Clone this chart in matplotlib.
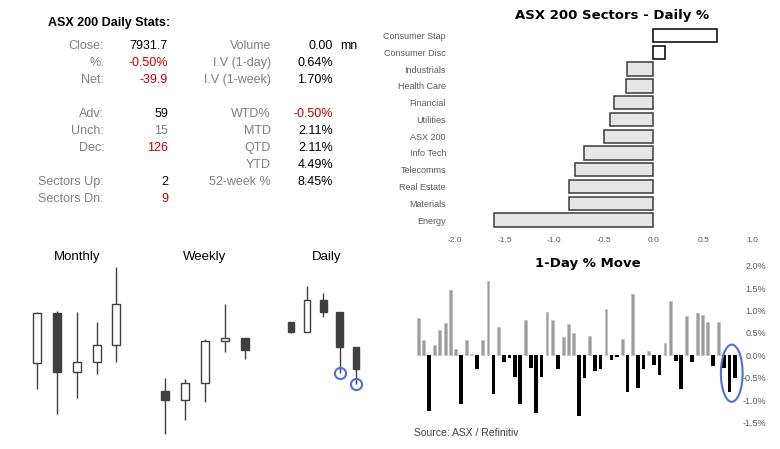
import matplotlib
matplotlib.use("Agg")
import matplotlib.pyplot as plt
from matplotlib.patches import Ellipse
import numpy as np

plt.rcParams['font.family'] = ['Liberation Sans', 'DejaVu Sans']

W, H = 780, 449

# --- stats table ---
left_labels = ['Close:', '%:', 'Net:', 'Adv:', 'Unch:', 'Dec:', 'Sectors Up:', 'Sectors Dn:']
left_values = ['7931.7', '-0.50%', '-39.9', '59', '15', '126', '2', '9']
left_colors = ['black', 'red', 'red', 'black', 'gray', 'red', 'black', 'red']
left_rows = [0, 1, 2, 4, 5, 6, 8, 9]

right_labels = ['Volume', 'I.V (1-day)', 'I.V (1-week)', 'WTD%', 'MTD', 'QTD', 'YTD', '52-week %']
right_values = ['0.00', '0.64%', '1.70%', '-0.50%', '2.11%', '2.11%', '4.49%', '8.45%']
right_colors = ['black', 'black', 'black', 'red', 'black', 'black', 'black', 'black']
right_rows = [0, 1, 2, 4, 5, 6, 7, 8]

# --- sectors ---
sectors = ['Consumer Stap', 'Consumer Disc', 'Industrials', 'Health Care', 'Financial',
           'Utilities', 'ASX 200', 'Info Tech', 'Telecomms', 'Real Estate', 'Materials', 'Energy']
sector_pct = [0.64, 0.12, -0.27, -0.28, -0.40, -0.44, -0.50, -0.70, -0.79, -0.85, -0.85, -1.61]

# --- 1-day % move (last 60 sessions) ---
daily_move = [0.83, 0.34, -1.24, 0.23, 0.56, 0.72, 1.46, 0.14, -1.08, 0.35,
              0.02, -0.31, 0.35, 1.66, -0.86, 0.64, -0.16, -0.05, -0.48, -1.08,
              0.80, -0.29, -1.30, -0.49, 0.98, 0.78, -0.31, 0.42, 0.69, 0.49,
              -1.35, -0.51, 0.43, -0.34, -0.31, 1.03, -0.11, -0.03, 0.36, -0.81,
              1.37, -0.72, -0.31, 0.10, -0.22, -0.43, 0.28, 1.22, -0.13, -0.76,
              0.88, -0.16, 0.94, 0.90, 0.75, -0.23, 0.75, -0.28, -0.81, -0.51]

# --- candles (open, high, low, close) ---
monthly_o = [7695.8, 7895.7, 7662.5, 7699.8, 7767.8]
monthly_h = [7899.7, 7906.4, 7899.7, 7859.7, 8079.6]
monthly_l = [7591.9, 7492.0, 7555.9, 7651.9, 7699.8]
monthly_c = [7895.7, 7662.5, 7699.8, 7767.8, 7931.7]

weekly_o = [7795.4, 7765.5, 7822.0, 7962.7, 7971.6]
weekly_h = [7838.6, 7835.3, 7970.5, 8084.6, 7971.6]
weekly_l = [7652.5, 7699.0, 7758.8, 7925.1, 7902.9]
weekly_c = [7765.5, 7822.0, 7962.7, 7971.6, 7931.7]

daily_o = [8017.0, 7999.0, 8057.0, 8035.0, 7972.0]
daily_h = [8017.0, 8082.2, 8069.5, 8035.0, 7972.0]
daily_l = [7997.0, 7999.0, 8026.0, 7925.7, 7905.1]
daily_c = [7999.0, 8057.0, 8035.0, 7972.0, 7932.0]

RED = '#c00000'
GRAY = '#808080'


def px_axes(fig, left, top, right, bottom):
    return fig.add_axes([left / W, 1 - bottom / H, (right - left) / W, (bottom - top) / H])


fig = plt.figure(figsize=(W / 100, H / 100), dpi=100)
fig.patch.set_facecolor('white')

# stats block
fig.text(47.7 / W, 1 - 22.7 / H, 'ASX 200 Daily Stats:', fontsize=9, fontweight='bold',
         ha='left', va='center')
cmap = {'black': 'black', 'red': RED, 'gray': GRAY}
for lab, val, col, r in zip(left_labels, left_values, left_colors, left_rows):
    y = 1 - (45.7 + r * 17.0) / H
    fig.text(104 / W, y, lab, fontsize=9, color=GRAY, ha='right', va='center')
    fig.text(168 / W, y, val, fontsize=9, color=cmap[col], ha='right', va='center')
for lab, val, col, r in zip(right_labels, right_values, right_colors, right_rows):
    y = 1 - (45.7 + r * 17.0) / H
    fig.text(271 / W, y, lab, fontsize=9, color=GRAY, ha='right', va='center')
    fig.text(333 / W, y, val, fontsize=9, color=cmap[col], ha='right', va='center')
fig.text(340 / W, 1 - 45.7 / H, 'mn', fontsize=9, color='black', ha='left', va='center')

# sector chart
ax_s = px_axes(fig, 455, 27.3, 752.7, 228.4)
ypos = np.arange(len(sectors))[::-1]
for y, v in zip(ypos, sector_pct):
    if v >= 0:
        ax_s.barh(y, v, height=0.8, color='white', edgecolor='black', linewidth=1.1)
    else:
        ax_s.barh(y, v, height=0.8, color='#e6e6e6', edgecolor='#3a3a3a', linewidth=1.1)
ax_s.set_xlim(-2, 1)
ax_s.set_ylim(-0.5, len(sectors) - 0.5)
ax_s.set_yticks(ypos)
ax_s.set_yticklabels(sectors, fontsize=6.5, color='#595959')
ax_s.set_xticks([-2.0, -1.5, -1.0, -0.5, 0.0, 0.5, 1.0])
ax_s.set_xticklabels(['-2.0', '-1.5', '-1.0', '-0.5', '0.0', '0.5', '1.0'], fontsize=6, color='#595959')
ax_s.tick_params(axis='both', length=0)
ax_s.tick_params(axis='y', pad=6.5)
ax_s.tick_params(axis='x', pad=6)
for sp in ax_s.spines.values():
    sp.set_visible(False)
fig.text(611.7 / W, 1 - 16 / H, 'ASX 200 Sectors - Daily %', fontsize=9.5, fontweight='bold',
         family='DejaVu Sans', ha='center', va='center')

# 1-day move chart
ax_d = px_axes(fig, 415.6, 265.9, 737.4, 422.4)
xs = np.arange(len(daily_move))
vals = np.array(daily_move)
up = vals >= 0
ax_d.bar(xs[up], vals[up], width=0.55, color='#9c9c9c', edgecolor='#bdbdbd', linewidth=0.5)
ax_d.bar(xs[~up], vals[~up], width=0.68, color='black')
ax_d.set_xlim(-0.5, len(daily_move) - 0.5)
ax_d.set_ylim(-1.5, 2.0)
ax_d.yaxis.tick_right()
ax_d.set_yticks([-1.5, -1.0, -0.5, 0.0, 0.5, 1.0, 1.5, 2.0])
ax_d.set_yticklabels(['-1.5%', '-1.0%', '-0.5%', '0.0%', '0.5%', '1.0%', '1.5%', '2.0%'],
                     fontsize=6.5, color='#595959', ha='right')
ax_d.tick_params(axis='y', length=0, pad=20.6)
ax_d.set_xticks([])
for sp in ax_d.spines.values():
    sp.set_visible(False)
ax_d.add_patch(Ellipse((58.45, -0.40), 4.05, 1.28, fill=False, edgecolor='#4a72d9',
                       linewidth=1.5, clip_on=False))
fig.text(588 / W, 1 - 263 / H, '1-Day % Move', fontsize=9.5, fontweight='bold',
         family='DejaVu Sans', ha='center', va='center')
fig.text(414 / W, 1 - 433 / H, 'Source: ASX / Refinitiv', fontsize=7.5, color='#404040',
         ha='left', va='center')


def candles(ax, o, h, l, c):
    o, h, l, c = map(np.array, (o, h, l, c))
    x = np.arange(len(o))
    ax.vlines(x, l, h, color='#404040', linewidth=1, clip_on=False, zorder=1)
    for xi, oi, ci in zip(x, o, c):
        fc = 'white' if ci >= oi else '#404040'
        ax.bar(xi, abs(ci - oi), bottom=min(oi, ci), width=0.4, color=fc,
               edgecolor='#404040', linewidth=1, clip_on=False, zorder=2)
    ax.set_xlim(-0.5, len(o) - 0.5)
    ax.set_ylim(l.min(), h.max())
    ax.axis('off')


ax_m = px_axes(fig, 27.4, 267.3, 126.2, 414.3)
candles(ax_m, monthly_o, monthly_h, monthly_l, monthly_c)
ax_w = px_axes(fig, 155.4, 304.3, 254.7, 434.3)
candles(ax_w, weekly_o, weekly_h, weekly_l, weekly_c)
ax_dy = px_axes(fig, 282.9, 286.3, 363.9, 384.0)
candles(ax_dy, daily_o, daily_h, daily_l, daily_c)
# circles on the last two daily lows
ax_dy.plot([3, 4], [daily_l[3], daily_l[4]], 'o', markersize=8, markerfacecolor='none',
           markeredgecolor='#4a72d9', markeredgewidth=1.5, clip_on=False, zorder=3)

for name, cx in [('Monthly', 77.3), ('Weekly', 205), ('Daily', 326.7)]:
    fig.text(cx / W, 1 - 256.7 / H, name, fontsize=9.5, color='black', ha='center', va='center')

fig.savefig('out.png', dpi=100)
